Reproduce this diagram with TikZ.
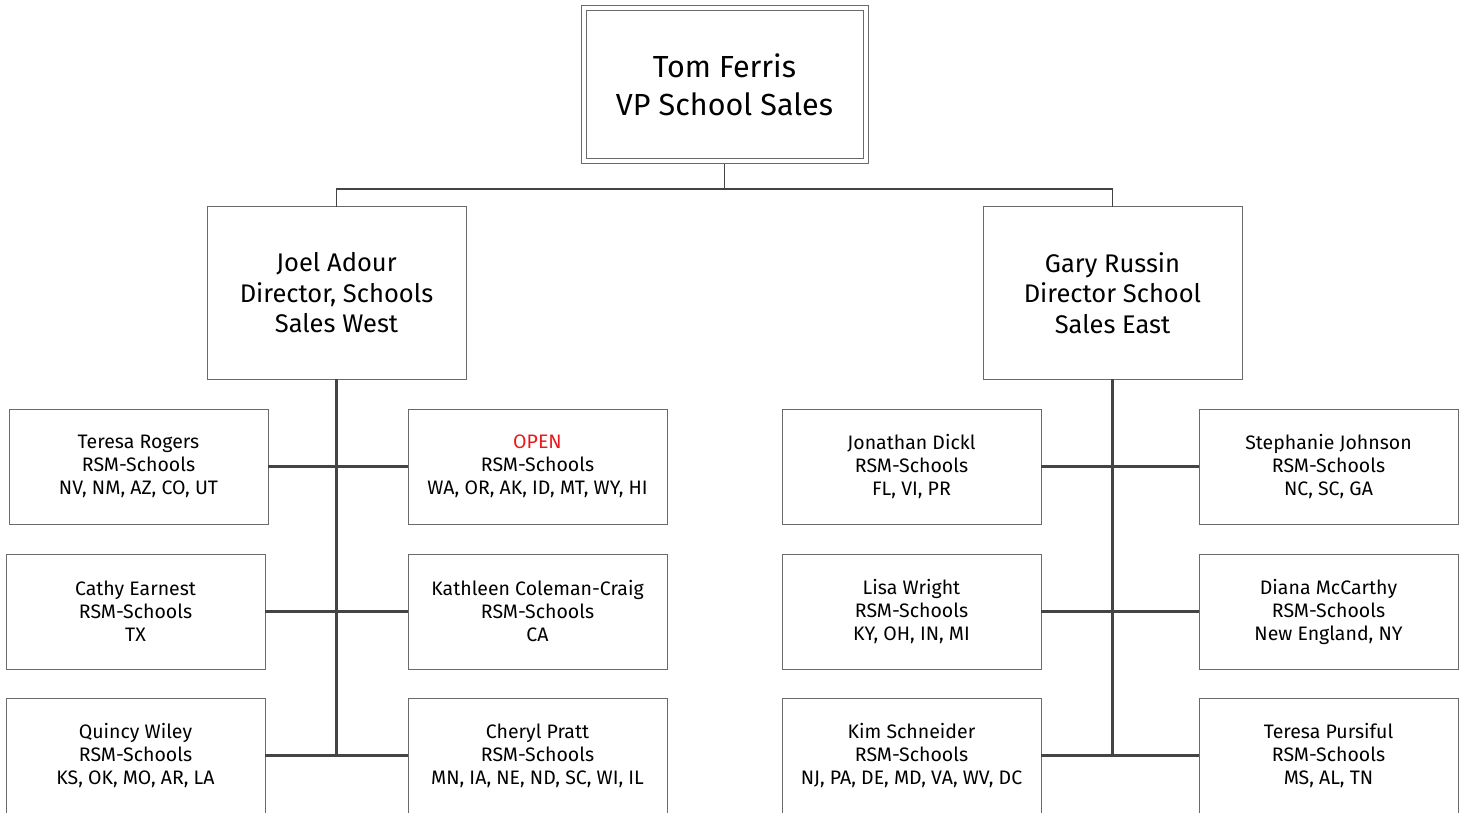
\documentclass[tikz,border=0pt]{standalone}
\usepackage{fontspec}
\setmainfont{Fira Sans}
\usepackage{xcolor}
\definecolor{boxline}{HTML}{6A6A6A}
\definecolor{trunkgray}{HTML}{444444}
\definecolor{openred}{HTML}{E8191C}

\tikzset{
  vpbox/.style={draw=boxline, line width=1pt, double, double distance=4pt,
    minimum width=282pt, minimum height=153pt, inner sep=0pt, outer sep=2.5pt,
    align=center, font=\fontsize{30.5}{38}\selectfont},
  dirbox/.style={draw=boxline, line width=1pt, minimum width=259pt,
    minimum height=172pt, inner sep=0pt, outer sep=0pt,
    align=center, font=\fontsize{25.5}{30.5}\selectfont},
  rsmbox/.style={draw=boxline, line width=1pt, minimum width=259pt,
    minimum height=115pt, inner sep=0pt, outer sep=0pt,
    align=center, font=\fontsize{19.5}{23}\selectfont},
  thinlink/.style={draw=trunkgray, line width=1.2pt},
  trunklink/.style={draw=trunkgray, line width=3.6pt}
}

\begin{document}
\begin{tikzpicture}[x=1pt,y=-1pt]
  \useasboundingbox (0,0) rectangle (1465,813);
  \clip (0,0) rectangle (1465,813);

  % vp and directors
  \node[vpbox] (tom) at (724.5,85) {Tom Ferris\\VP School Sales};
  \node[dirbox] (joel) at (336.5,293) {Joel Adour\\Director, Schools\\Sales West};
  \node[dirbox] (gary) at (1112.5,293) {Gary Russin\\Director School\\Sales East};

  % west
  \node[rsmbox] (trogers) at (138.5,466.5) {Teresa Rogers\\RSM-Schools\\NV, NM, AZ, CO, UT};
  \node[rsmbox] (cathy) at (135.5,611.5) {Cathy Earnest\\RSM-Schools\\TX};
  \node[rsmbox] (quincy) at (135.5,755.5) {Quincy Wiley\\RSM-Schools\\KS, OK, MO, AR, LA};
  \node[rsmbox] (open) at (537.5,466.5) {\textcolor{openred}{OPEN}\\RSM-Schools\\WA, OR, AK, ID, MT, WY, HI};
  \node[rsmbox] (kathleen) at (537.5,611.5) {Kathleen Coleman-Craig\\RSM-Schools\\CA};
  \node[rsmbox] (cheryl) at (537.5,755.5) {Cheryl Pratt\\RSM-Schools\\MN, IA, NE, ND, SC, WI, IL};

  % east
  \node[rsmbox] (jonathan) at (911.5,466.5) {Jonathan Dickl\\RSM-Schools\\FL, VI, PR};
  \node[rsmbox] (lisa) at (911.5,611.5) {Lisa Wright\\RSM-Schools\\KY, OH, IN, MI};
  \node[rsmbox] (kim) at (911.5,755.5) {Kim Schneider\\RSM-Schools\\NJ, PA, DE, MD, VA, WV, DC};
  \node[rsmbox] (stephanie) at (1328.5,466.5) {Stephanie Johnson\\RSM-Schools\\NC, SC, GA};
  \node[rsmbox] (diana) at (1328.5,611.5) {Diana McCarthy\\RSM-Schools\\New England, NY};
  \node[rsmbox] (tpursiful) at (1328.5,755.5) {Teresa Pursiful\\RSM-Schools\\MS, AL, TN};

  % links
  \coordinate (split) at (724.5,189);
  \draw[thinlink] (tom.south) -- (split);
  \draw[thinlink] (joel.north) |- (split) -| (gary.north);

  \draw[trunklink] (joel.south) -- (joel.south |- quincy.east);
  \draw[trunklink] (trogers.east) -- (open.west);
  \draw[trunklink] (cathy.east) -- (kathleen.west);
  \draw[trunklink] (quincy.east) -- (cheryl.west);

  \draw[trunklink] (gary.south) -- (gary.south |- kim.east);
  \draw[trunklink] (jonathan.east) -- (stephanie.west);
  \draw[trunklink] (lisa.east) -- (diana.west);
  \draw[trunklink] (kim.east) -- (tpursiful.west);
\end{tikzpicture}
\end{document}
